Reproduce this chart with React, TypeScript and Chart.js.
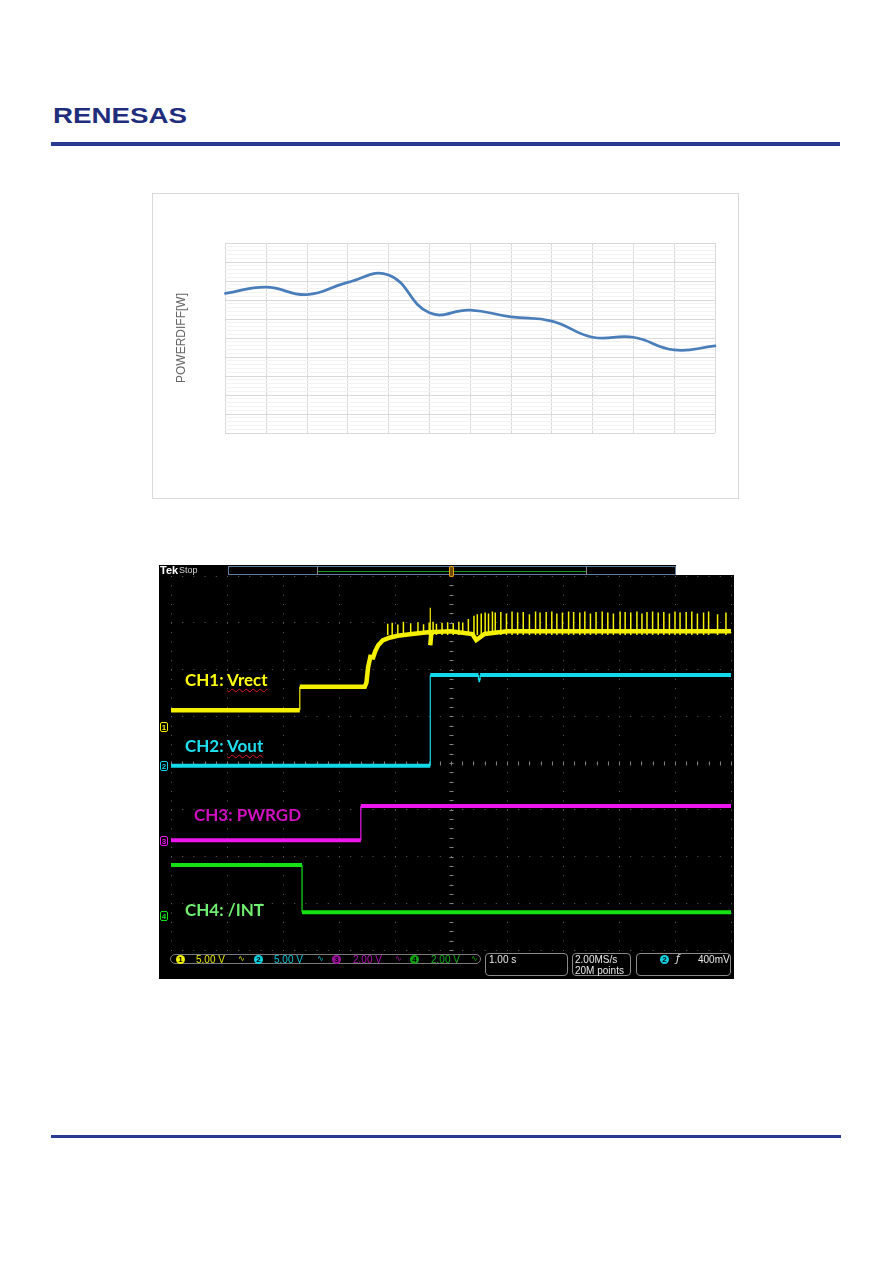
import React, { useEffect, useRef } from 'react';
import { Chart, registerables } from 'chart.js';

Chart.register(...registerables);

// ---------- Chart 1: POWERDIFF[W] ----------
const categories = ['1', '2', '3', '4', '5', '6', '7', '8', '9', '10', '11', '12', '13'];
const powerDiffW = [7.35, 7.68, 7.28, 7.93, 8.32, 6.33, 6.47, 6.11, 5.89, 5.04, 5.04, 4.37, 4.58];
const yAxisTitle = 'POWERDIFF[W]';
const yMin = 0;
const yMax = 10;
const yMinorStep = 0.2;

// ---------- Chart 2: oscilloscope capture (units = divisions) ----------
const ch1X = [0, 2.30, 2.30, 3.46, 3.49, 3.52, 3.56, 3.61, 3.65, 3.70, 3.78, 3.90, 4.05, 4.30, 4.63, 4.63, 4.63, 4.65, 5.00, 5.38, 5.45, 5.60, 6.00, 10];
const ch1Y = [1.13, 1.13, 1.63, 1.63, 1.72, 2.05, 2.27, 2.26, 2.40, 2.52, 2.62, 2.68, 2.72, 2.76, 2.80, 3.32, 2.52, 2.80, 2.82, 2.76, 2.63, 2.76, 2.82, 2.82];
const ch1SpikeX = [3.87, 3.95, 4.05, 4.15, 4.28, 4.41, 4.51, 4.61, 4.68, 4.74, 4.84, 4.94, 5.04, 5.14, 5.21, 5.31, 5.41, 5.47, 5.54, 5.61, 5.67, 5.74,
  5.79, 5.89, 5.99, 6.09, 6.19, 6.29, 6.40, 6.51, 6.59, 6.70, 6.80, 6.89, 6.99, 7.10, 7.19, 7.30, 7.39, 7.49, 7.59, 7.70,
  7.80, 7.90, 8.02, 8.11, 8.21, 8.32, 8.41, 8.50, 8.60, 8.70, 8.80, 8.90, 9.00, 9.09, 9.20, 9.30, 9.40, 9.51, 9.60, 9.76, 9.91];
const ch1SpikeTop = [2.98, 3.0, 2.96, 3.02, 2.99, 3.01, 2.97, 3.0, 3.02, 2.98, 3.0, 3.01, 2.99, 3.02, 3.0, 3.08, 3.15, 3.18, 3.2, 3.22, 3.2, 3.24,
  3.22, 3.23, 3.2, 3.24, 3.22, 3.23, 3.18, 3.24, 3.22, 3.23, 3.24, 3.2, 3.22, 3.24, 3.23, 3.22, 3.24, 3.2, 3.23, 3.24,
  3.22, 3.2, 3.24, 3.23, 3.22, 3.24, 3.2, 3.23, 3.24, 3.22, 3.23, 3.2, 3.24, 3.22, 3.23, 3.24, 3.2, 3.22, 3.24, 3.18, 3.22];
const ch1SpikeBase = 2.74;
const ch2X = [0, 4.63, 4.63, 5.49, 5.49, 5.52, 5.52, 10];
const ch2Y = [-0.06, -0.06, 1.88, 1.88, 1.77, 1.77, 1.88, 1.88];
const ch3X = [0, 3.39, 3.39, 10];
const ch3Y = [-1.65, -1.65, -0.92, -0.92];
const ch4X = [0, 2.34, 2.34, 10];
const ch4Y = [-2.18, -2.18, -3.19, -3.19];

const YELLOW = '#f4f000';
const CYAN = '#12d8ea';
const MAGENTA = '#ee16ee';
const GREEN = '#14e014';

const pts = (xs: number[], ys: number[]) => xs.map((x, i) => ({ x, y: ys[i] }));

function PowerChart() {
  const ref = useRef<HTMLCanvasElement>(null);
  useEffect(() => {
    const chart = new Chart(ref.current!, {
      type: 'line',
      data: {
        labels: categories,
        datasets: [{
          label: yAxisTitle,
          data: powerDiffW,
          borderColor: '#4a7ebb',
          borderWidth: 2.75,
          pointRadius: 0,
          tension: 0.45,
          fill: false,
          borderCapStyle: 'round',
        }],
      },
      options: {
        responsive: false,
        animation: false,
        devicePixelRatio: 1,
        layout: { padding: { left: 10, top: 49, right: 23, bottom: 65 } },
        plugins: { legend: { display: false }, tooltip: { enabled: false } },
        scales: {
          x: {
            grid: { color: '#d9d9d9', drawTicks: false },
            ticks: { display: false },
            border: { display: false },
          },
          y: {
            min: yMin,
            max: yMax,
            ticks: { display: false, stepSize: yMinorStep, maxTicksLimit: 100 },
            grid: {
              drawTicks: false,
              color: (c: any) => (Math.abs(c.tick.value - Math.round(c.tick.value)) < 1e-6 ? '#d9d9d9' : '#f3f3f3'),
            },
            border: { display: false },
            title: {
              display: true,
              text: yAxisTitle,
              color: '#666666',
              font: { family: 'Liberation Sans', size: 12 },
              padding: { top: 11, bottom: 37 },
            },
          },
        },
      },
    } as any);
    return () => chart.destroy();
  }, []);
  return <canvas ref={ref} width={585} height={304} style={{ display: 'block' }} />;
}

const graticulePlugin = {
  id: 'graticule',
  beforeDatasetsDraw(chart: any) {
    const { ctx, scales } = chart;
    const x = scales.x;
    const y = scales.y;
    const cx = Math.round(x.getPixelForValue(5)) + 0.5;
    const cy = Math.round(y.getPixelForValue(0)) + 0.5;
    ctx.save();
    ctx.strokeStyle = '#808080';
    ctx.lineWidth = 1;
    ctx.beginPath();
    for (let i = 0; i <= 50; i++) {
      const px = Math.round(x.getPixelForValue(i * 0.2)) + 0.5;
      ctx.moveTo(px, cy - 2);
      ctx.lineTo(px, cy + 2);
    }
    for (let i = 0; i <= 40; i++) {
      const py = Math.round(y.getPixelForValue(-4 + i * 0.2)) + 0.5;
      ctx.moveTo(cx - 2, py);
      ctx.lineTo(cx + 2, py);
    }
    ctx.stroke();
    ctx.restore();
  },
};

function ScopeChart() {
  const ref = useRef<HTMLCanvasElement>(null);
  useEffect(() => {
    const thinVertical = (w: number) => (c: any) => (c.p0.parsed.x === c.p1.parsed.x ? 1.2 : w);
    const spikes = ch1SpikeX.flatMap((x, i) => [{ x, y: ch1SpikeBase }, { x, y: ch1SpikeTop[i] }, { x, y: null }]);
    const chart = new Chart(ref.current!, {
      type: 'line',
      data: {
        datasets: [
          { label: 'CH1 spikes', data: spikes, borderColor: YELLOW, borderWidth: 1.5, pointRadius: 0, tension: 0 },
          { label: 'CH1: Vrect', data: pts(ch1X, ch1Y), borderColor: YELLOW, borderWidth: 4.5, pointRadius: 0, tension: 0, segment: { borderWidth: thinVertical(4.5) } },
          { label: 'CH2: Vout', data: pts(ch2X, ch2Y), borderColor: CYAN, borderWidth: 4, pointRadius: 0, tension: 0, segment: { borderWidth: thinVertical(4) } },
          { label: 'CH3: PWRGD', data: pts(ch3X, ch3Y), borderColor: MAGENTA, borderWidth: 4, pointRadius: 0, tension: 0, segment: { borderWidth: thinVertical(4) } },
          { label: 'CH4: /INT', data: pts(ch4X, ch4Y), borderColor: GREEN, borderWidth: 4, pointRadius: 0, tension: 0, segment: { borderWidth: thinVertical(4) } },
        ],
      },
      options: {
        responsive: false,
        animation: false,
        devicePixelRatio: 1,
        layout: { padding: { left: 12, top: 11, right: 3, bottom: 29 } },
        plugins: { legend: { display: false }, tooltip: { enabled: false } },
        scales: {
          x: {
            type: 'linear', min: 0, max: 10,
            ticks: { display: false, stepSize: 1 },
            grid: { color: '#5e5e5e', drawTicks: false },
            border: { display: false, dash: [1, 8.35] },
          },
          y: {
            type: 'linear', min: -4, max: 4,
            ticks: { display: false, stepSize: 1 },
            grid: { color: '#5e5e5e', drawTicks: false },
            border: { display: false, dash: [1, 10.2] },
          },
        },
      },
      plugins: [graticulePlugin],
    } as any);
    return () => chart.destroy();
  }, []);
  return <canvas ref={ref} width={575} height={414} style={{ display: 'block' }} />;
}

const abs = (x: number, y: number, extra: React.CSSProperties = {}): React.CSSProperties => ({
  position: 'absolute', left: x, top: y, whiteSpace: 'nowrap', lineHeight: 1, ...extra,
});

const scopeFont = 'Liberation Sans, sans-serif';

function ChanBadge({ x, y, n, color }: { x: number; y: number; n: string; color: string }) {
  return (
    <div style={abs(x, y, { width: 9, height: 9, borderRadius: 5, background: color, color: '#000', fontFamily: scopeFont, fontSize: 8, fontWeight: 700, textAlign: 'center', lineHeight: '9px' })}>{n}</div>
  );
}

function GroundMark({ y, n, color }: { y: number; n: string; color: string }) {
  return (
    <div style={abs(160, y - 5, { width: 8, height: 10, border: `1px solid ${color}`, borderRadius: 2, color, fontFamily: scopeFont, fontSize: 8, fontWeight: 700, textAlign: 'center', lineHeight: '9px', boxSizing: 'border-box' })}>{n}</div>
  );
}

export default function App() {
  const label = (color: string): React.CSSProperties => ({ fontFamily: 'Lato, sans-serif', fontWeight: 700, fontSize: 17, color });
  const squiggle: React.CSSProperties = { textDecorationLine: 'underline', textDecorationStyle: 'wavy', textDecorationColor: '#e02020', textDecorationThickness: '1px', textUnderlineOffset: '2px' };
  return (
    <div style={{ position: 'absolute', left: 0, top: 0, width: 892, height: 1263, background: '#fff' }}>
      {/* header */}
      <div style={abs(53, 105, { fontFamily: 'Liberation Sans, sans-serif', fontWeight: 700, fontSize: 22, color: '#1f2e7c', transform: 'scaleX(1.26)', transformOrigin: 'left top', letterSpacing: 0 })}>RENESAS</div>
      <div style={abs(51, 142, { width: 789, height: 4, background: '#283a92' })} />

      {/* chart 1 */}
      <div style={abs(152, 193, { width: 585, height: 304, border: '1px solid #d9d9d9' })}>
        <PowerChart />
      </div>

      {/* chart 2: scope */}
      <div style={abs(159, 565, { width: 575, height: 414, background: '#000' })}>
        <ScopeChart />
      </div>
      <div style={abs(676, 565, { width: 58, height: 10, background: '#fff' })} />
      <div style={abs(160, 565, { fontFamily: scopeFont, fontWeight: 700, fontSize: 11, color: '#fff' })}>Tek</div>
      <div style={abs(179, 566, { fontFamily: scopeFont, fontSize: 9, color: '#d8d8d8' })}>Stop</div>
      <div style={abs(228, 566, { width: 448, height: 9, border: '1px solid #5f7fa0', boxSizing: 'border-box' })} />
      <div style={abs(317, 571, { width: 269, height: 1, background: '#1a9a1a' })} />
      <div style={abs(317, 567, { width: 1, height: 8, background: '#888' })} />
      <div style={abs(586, 567, { width: 1, height: 8, background: '#888' })} />
      <div style={abs(449, 566, { width: 5, height: 11, border: '1px solid #e8a000', borderRadius: 2, boxSizing: 'border-box', background: '#6a4a00' })} />

      <GroundMark y={727} n="1" color={YELLOW} />
      <GroundMark y={766} n="2" color={CYAN} />
      <GroundMark y={841} n="3" color={MAGENTA} />
      <GroundMark y={916} n="4" color={GREEN} />

      <div style={abs(185, 671, label('#ffff10'))}>CH1: <span style={squiggle}>Vrect</span></div>
      <div style={abs(185, 737, label('#20e0f0'))}>CH2: <span style={squiggle}>Vout</span></div>
      <div style={abs(194, 806, label('#d010c0'))}>CH3: PWRGD</div>
      <div style={abs(185, 901, label('#70f070'))}>CH4: /INT</div>

      {/* status bar */}
      <div style={abs(170, 954, { width: 311, height: 10, border: '1px solid #7a7a7a', borderRadius: 5, boxSizing: 'border-box' })} />
      <div style={abs(485, 953, { width: 83, height: 23, border: '1px solid #8a8a8a', borderRadius: 4, boxSizing: 'border-box' })} />
      <div style={abs(572, 953, { width: 59, height: 23, border: '1px solid #8a8a8a', borderRadius: 4, boxSizing: 'border-box' })} />
      <div style={abs(636, 953, { width: 95, height: 23, border: '1px solid #8a8a8a', borderRadius: 4, boxSizing: 'border-box' })} />

      <ChanBadge x={176} y={955} n="1" color="#f0f000" />
      <div style={abs(196, 955, { fontFamily: scopeFont, fontSize: 10, color: '#e8e800' })}>5.00 V</div>
      <div style={abs(238, 955, { fontFamily: 'DejaVu Sans', fontSize: 8, color: '#e8e800' })}>∿</div>
      <ChanBadge x={254} y={955} n="2" color="#10d0e0" />
      <div style={abs(274, 955, { fontFamily: scopeFont, fontSize: 10, color: '#10c8d8' })}>5.00 V</div>
      <div style={abs(317, 955, { fontFamily: 'DejaVu Sans', fontSize: 8, color: '#10c8d8' })}>∿</div>
      <ChanBadge x={332} y={955} n="3" color="#a010a0" />
      <div style={abs(353, 955, { fontFamily: scopeFont, fontSize: 10, color: '#b010b0' })}>2.00 V</div>
      <div style={abs(395, 955, { fontFamily: 'DejaVu Sans', fontSize: 8, color: '#b010b0' })}>∿</div>
      <ChanBadge x={410} y={955} n="4" color="#10a010" />
      <div style={abs(431, 955, { fontFamily: scopeFont, fontSize: 10, color: '#10b010' })}>2.00 V</div>
      <div style={abs(471, 955, { fontFamily: 'DejaVu Sans', fontSize: 8, color: '#10b010' })}>∿</div>

      <div style={abs(489, 955, { fontFamily: scopeFont, fontSize: 10, color: '#e8e8e8' })}>1.00 s</div>
      <div style={abs(575, 955, { fontFamily: scopeFont, fontSize: 10, color: '#e8e8e8' })}>2.00MS/s</div>
      <div style={abs(575, 966, { fontFamily: scopeFont, fontSize: 10, color: '#e8e8e8' })}>20M points</div>
      <ChanBadge x={660} y={955} n="2" color="#10d0e0" />
      <div style={abs(676, 954, { fontFamily: 'DejaVu Sans', fontSize: 10, color: '#e8e8e8', fontStyle: 'italic' })}>ƒ</div>
      <div style={abs(698, 955, { fontFamily: scopeFont, fontSize: 10, color: '#e8e8e8' })}>400mV</div>

      {/* footer rule */}
      <div style={abs(51, 1135, { width: 790, height: 3, background: '#283a92' })} />
    </div>
  );
}
